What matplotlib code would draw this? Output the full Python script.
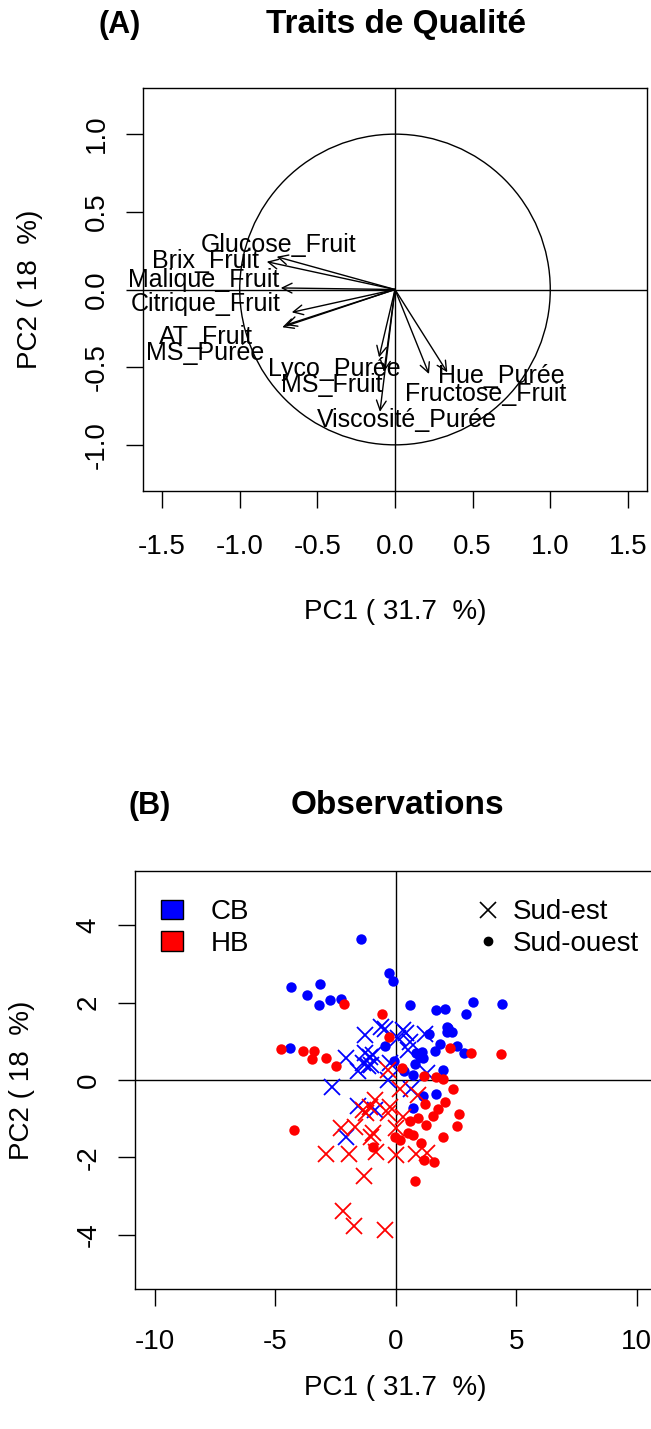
import matplotlib
matplotlib.use("Agg")
import matplotlib.pyplot as plt
from matplotlib.patches import Circle, Patch
from matplotlib.lines import Line2D
from matplotlib.ticker import FormatStrFormatter

plt.rcParams['font.family'] = ['Liberation Sans', 'DejaVu Sans']
plt.rcParams['axes.unicode_minus'] = False

# --- (A) variable loadings ---
var_names = ['Glucose_Fruit', 'Brix_Fruit', 'Malique_Fruit', 'Citrique_Fruit', 'AT_Fruit',
             'MS_Purée', 'Lyco_Purée', 'MS_Fruit', 'Viscosité_Purée', 'Hue_Purée',
             'Fructose_Fruit']
pc1_load = [-0.762, -0.826, -0.736, -0.665, -0.704, -0.726, -0.103, -0.071, -0.097, 0.337, 0.219]
pc2_load = [0.211, 0.179, 0.010, -0.147, -0.229, -0.243, -0.437, -0.531, -0.787, -0.533, -0.544]
# label anchor positions (after label repelling)
lab_x = [-0.747, -1.221, -1.230, -1.217, -1.217, -1.224, -0.393, -0.406, 0.077, 0.683, 0.586]
lab_y = [0.287, 0.184, 0.061, -0.093, -0.306, -0.409, -0.512, -0.615, -0.840, -0.557, -0.673]

# --- (B) individuals ---
cb_se_x = [-1.29, -0.60, -0.46, 0.30, 0.44, 0.10, 1.23, 0.58, 0.51, -2.08, -1.29, -1.08, -0.94,
           -1.36, -1.15, -1.01, -1.57, -0.25, -0.32, -2.63, 0.65, -1.57, -0.87, -2.05, 1.28]
cb_se_y = [1.17, 1.38, 1.33, 1.30, 1.21, 1.08, 1.19, 0.99, 0.78, 0.56, 0.69, 0.60, 0.65,
           0.43, 0.35, 0.39, 0.22, 0.43, 0.00, -0.19, -0.24, -0.67, -0.78, -1.47, 0.17]
cb_so_x = [-1.45, -0.30, -0.11, -4.37, -3.13, -3.69, -2.74, -3.20, -2.27, 0.58, 1.66, 2.04, 3.20,
           4.42, 2.91, 2.11, 2.11, 2.32, 2.18, 1.37, 1.83, 2.56, 2.84, 1.61, 0.86, 1.07, 1.14,
           1.00, -0.43, -4.41, -0.07, 0.79, 1.96, 0.72, 1.14, 1.66, 0.72, 0.35]
cb_so_y = [3.65, 2.76, 2.56, 2.39, 2.47, 2.20, 2.07, 1.93, 2.09, 1.93, 1.80, 1.84, 2.02,
           1.97, 1.70, 1.38, 1.25, 1.23, 1.34, 1.19, 0.93, 0.89, 0.71, 0.75, 0.69, 0.73, 0.56,
           0.60, 0.88, 0.83, 0.50, 0.41, 0.26, 0.13, -0.41, -0.37, -0.73, 0.22]
hb_se_x = [-0.32, 0.17, 0.93, -1.36, -1.08, -0.87, -1.22, -0.25, -0.32, 0.30, -2.26, -1.70, -0.94,
           -1.01, -2.91, 0.03, -1.94, -0.80, -0.01, 0.86, 1.28, -1.32, -2.19, -1.75, -0.46]
hb_se_y = [0.26, -0.22, -0.39, -0.78, -0.69, -0.51, -0.86, -0.69, -0.86, -0.95, -1.25, -1.21, -1.38,
           -1.47, -1.92, -1.25, -1.92, -1.86, -1.94, -1.92, -1.88, -2.48, -3.39, -3.78, -3.87]
hb_so_x = [-0.57, -0.28, -4.78, -3.85, -3.41, -3.48, -2.91, -2.47, 2.25, 3.12, 4.37, 0.24, -2.16,
           1.18, 1.66, 1.97, 2.38, 1.23, 2.04, 1.76, 1.55, 2.62, 0.58, 0.93, 1.25, 2.55, -4.23,
           -0.04, 0.17, 0.51, 0.72, 1.03, 1.97, -0.94, 1.18, 1.59, 0.79]
hb_so_y = [1.71, 1.12, 0.80, 0.75, 0.75, 0.53, 0.58, 0.35, 0.83, 0.71, 0.67, 0.30, 1.97,
           0.11, 0.07, 0.03, -0.24, -0.62, -0.56, -0.75, -0.92, -0.88, -1.05, -0.97, -1.17, -1.19, -1.28,
           -1.47, -1.55, -1.36, -1.42, -1.64, -1.47, -1.73, -2.07, -2.12, -2.61]

W, H = 651, 1429
fig = plt.figure(figsize=(W / 100, H / 100), dpi=100)

def px_axes(left, top, right, bottom):
    return fig.add_axes([left / W, 1 - bottom / H, (right - left) / W, (bottom - top) / H])

def style_axes(ax, xpad):
    for s in ax.spines.values():
        s.set_linewidth(1.0)
    ax.tick_params(length=12, width=1.0, labelsize=20, pad=12)
    ax.tick_params(axis='x', pad=xpad)
    ax.tick_params(axis='y', labelrotation=90)
    for lbl in ax.get_yticklabels():
        lbl.set_verticalalignment('center')

# panel A
axA = px_axes(143, 88, 647, 491)
axA.set_xlim(-1.623, 1.623)
axA.set_ylim(-1.297, 1.297)
axA.axhline(0, color='black', lw=1.0)
axA.axvline(0, color='black', lw=1.0)
axA.add_patch(Circle((0, 0), 1, fill=False, color='black', lw=1.0))
for x, y in zip(pc1_load, pc2_load):
    axA.annotate('', xy=(x, y), xytext=(0, 0),
                 arrowprops=dict(arrowstyle='->,head_length=0.7,head_width=0.35',
                                 mutation_scale=10, lw=1.0, color='black',
                                 shrinkA=0, shrinkB=0))
for name, x, y in zip(var_names, lab_x, lab_y):
    axA.text(x, y, name, ha='center', va='center', fontsize=18)
axA.set_xticks([-1.5, -1.0, -0.5, 0.0, 0.5, 1.0, 1.5])
axA.set_yticks([-1.0, -0.5, 0.0, 0.5, 1.0])
axA.xaxis.set_major_formatter(FormatStrFormatter('%.1f'))
axA.yaxis.set_major_formatter(FormatStrFormatter('%.1f'))
style_axes(axA, 19)
axA.set_xlabel('PC1 ( 31.7  %)', fontsize=20, labelpad=28)
axA.set_ylabel('PC2 ( 18  %)', fontsize=20, labelpad=29)
fig.text(120 / W, 1 - 25 / H, '(A)', ha='center', va='center', fontsize=22, weight='bold')
fig.text(396 / W, 1 - 25 / H, 'Traits de Qualité', ha='center', va='center', fontsize=24, weight='bold')

# panel B
axB = px_axes(135, 871, 656.5, 1289)
axB.set_xlim(-10.83, 10.83)
axB.set_ylim(-5.4, 5.4)
axB.axhline(0, color='black', lw=1.0)
axB.axvline(0, color='black', lw=1.0)
axB.plot(cb_so_x, cb_so_y, 'o', color='blue', ms=7.5, mew=0)
axB.plot(cb_se_x, cb_se_y, 'x', color='blue', ms=11, mew=1.3)
axB.plot(hb_so_x, hb_so_y, 'o', color='red', ms=7.5, mew=0)
axB.plot(hb_se_x, hb_se_y, 'x', color='red', ms=11, mew=1.3)
axB.set_xticks([-10, -5, 0, 5, 10])
axB.set_yticks([-4, -2, 0, 2, 4])
style_axes(axB, 17)
axB.set_xlabel('PC1 ( 31.7  %)', fontsize=20, labelpad=14)
axB.set_ylabel('PC2 ( 18  %)', fontsize=20, labelpad=29)

leg1 = axB.legend(handles=[Patch(facecolor='blue', edgecolor='black'),
                           Patch(facecolor='red', edgecolor='black')],
                  labels=['CB', 'HB'], loc='upper left', bbox_to_anchor=(0.028, 0.959),
                  frameon=False, fontsize=20, handlelength=0.8, handleheight=0.7,
                  handletextpad=1.0, labelspacing=0.2, borderaxespad=0)
axB.add_artist(leg1)
axB.legend(handles=[Line2D([], [], marker='x', ls='', color='black', ms=11, mew=1.2),
                    Line2D([], [], marker='o', ls='', color='black', ms=6)],
           labels=['Sud-est', 'Sud-ouest'], loc='upper left', bbox_to_anchor=(0.6285, 0.959),
           frameon=False, fontsize=20, handlelength=1.0, handletextpad=0.4,
           labelspacing=0.2, borderaxespad=0)
fig.text(150 / W, 1 - 806 / H, '(B)', ha='center', va='center', fontsize=22, weight='bold')
fig.text(397 / W, 1 - 806 / H, 'Observations', ha='center', va='center', fontsize=24, weight='bold')

fig.savefig('out.png', dpi=100)
